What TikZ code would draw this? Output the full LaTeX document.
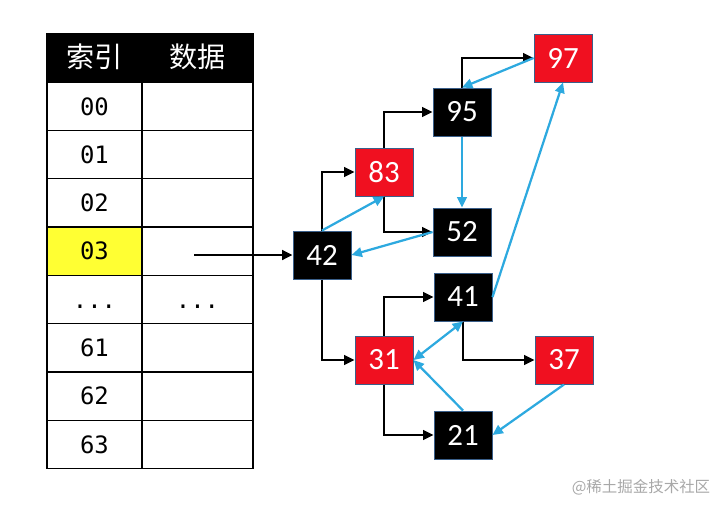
\documentclass[tikz,border=0pt]{standalone}
\usepackage{fontspec}
\setmainfont{Carlito}
\newfontfamily\cjkfont{Noto Sans CJK SC}
\newfontfamily\slotfont{DejaVu Sans Mono}
\usetikzlibrary{arrows.meta,positioning}
\definecolor{nodeRed}{HTML}{F01020}
\definecolor{nodeFr}{HTML}{3A5F8A}
\definecolor{linkBlue}{HTML}{2DA9DF}
\definecolor{slotYel}{HTML}{FFFF33}
\definecolor{markGrey}{HTML}{A8A8A8}
\tikzset{>={Triangle[length=2.6mm,width=2.4mm]},
  blackbox/.style={draw=nodeFr,line width=0.7pt,fill=black,text=white,
    minimum width=1.45cm,minimum height=1.2cm,inner sep=0pt,
    font=\fontsize{22}{24}\selectfont},
  redbox/.style={blackbox,fill=nodeRed},
  cell/.style={draw=black,line width=1pt,minimum height=1.2075cm,inner sep=0pt,
    outer sep=0pt,text height=12.4pt,text depth=0pt,
    font=\slotfont\fontsize{17}{19}\selectfont},
  idxcell/.style={cell,minimum width=2.375cm},
  datcell/.style={cell,minimum width=2.775cm},
  headcell/.style={fill=black,text=white,text height=15.5pt,text depth=2.5pt,
    font=\cjkfont\fontsize{20}{22}\selectfont},
  child/.style={->,line width=1.4pt},
  link/.style={->,line width=1.6pt,linkBlue}}

\begin{document}
\begin{tikzpicture}[x=0.025cm,y=-0.025cm]
  \useasboundingbox (0,0) rectangle (724,508);
  % hash table
  \node[idxcell,headcell] (hidx) at (94.5,58) {索引};
  \node[datcell,headcell,right=0pt of hidx] (hdat) {数据};
  \node[idxcell,below=0pt of hidx] (i00) {00};
  \node[datcell,right=0pt of i00] (d00) {};
  \node[idxcell,below=0pt of i00] (i01) {01};
  \node[datcell,right=0pt of i01] (d01) {};
  \node[idxcell,below=0pt of i01] (i02) {02};
  \node[datcell,right=0pt of i02] (d02) {};
  \node[idxcell,fill=slotYel,below=0pt of i02] (i03) {03};
  \node[datcell,right=0pt of i03] (d03) {};
  \node[idxcell,below=0pt of i03] (idots) {...};
  \node[datcell,right=0pt of idots] (ddots) {...};
  \node[idxcell,below=0pt of idots] (i61) {61};
  \node[datcell,right=0pt of i61] (d61) {};
  \node[idxcell,below=0pt of i61] (i62) {62};
  \node[datcell,right=0pt of i62] (d62) {};
  \node[idxcell,below=0pt of i62] (i63) {63};
  \node[datcell,right=0pt of i63] (d63) {};
  % red-black tree
  \node[blackbox] (n42) at (322,255) {42};
  \node[redbox]   (n83) at (384,172) {83};
  \node[blackbox] (n95) at (462,112) {95};
  \node[blackbox] (n52) at (462,232) {52};
  \node[redbox]   (n97) at (563,58)  {97};
  \node[blackbox] (n41) at (463,297) {41};
  \node[redbox]   (n31) at (384,360) {31};
  \node[redbox]   (n37) at (564,360) {37};
  \node[blackbox] (n21) at (463,435) {21};
  \coordinate (src) at (194,255);
  \draw[->,line width=2pt] (src) -- (n42);
  \draw[child] (n42.north) |- (n83);
  \draw[child] (n83.north) |- (n95);
  \draw[child] (n83.south) |- (n52);
  \draw[child] (n95.north) |- (n97);
  \draw[child] (n42.south) |- (n31);
  \draw[child] (n31.north) |- (n41);
  \draw[child] (n31.south) |- (n21);
  \draw[child] (n41.south) |- (n37);
  \draw[link] (n42.north) -- (n83.south);
  \draw[link] (n52.west) -- (n42.east);
  \draw[link] (n95.south) -- (n52.north);
  \draw[link] (n97.west) -- (n95.north);
  \draw[link] (n41.east) -- (n97.south);
  \draw[link,<->] (n31.east) -- (n41.south);
  \draw[link] (n21.north) -- (n31.east);
  \draw[link] (n37.south) -- (n21.east);
  \node[font=\cjkfont\fontsize{11}{13}\selectfont,text=markGrey] (wm) at (641,487) {@稀土掘金技术社区};
\end{tikzpicture}
\end{document}
